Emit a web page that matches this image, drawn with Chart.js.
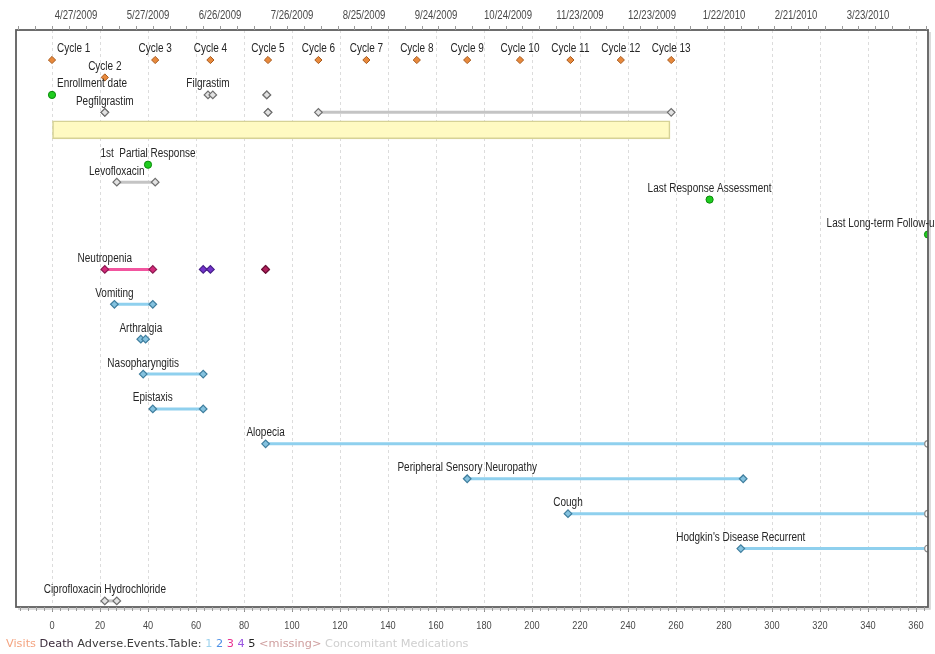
<!DOCTYPE html>
<html>
<head>
<meta charset="utf-8">
<script src="https://cdn.jsdelivr.net/npm/chart.js@4.4.1/dist/chart.umd.min.js"></script>
<style>
  body { margin: 0; background: #fff; width: 935px; height: 654px; overflow: hidden; position: relative; }
  #wrap { position: absolute; left: 0; top: 0; width: 935px; height: 654px; }
  #legend { position: absolute; left: 6px; top: 636px; font: 11.3px "DejaVu Sans", sans-serif; color: #333; white-space: nowrap; line-height: 16px; }
</style>
</head>
<body>
<div id="wrap"><canvas id="timeline" width="935" height="654"></canvas></div>
<div id="legend">
  <span style="color:#f4a582">Visits</span>
  <span style="color:#3b2b3b">Death</span>
  <span style="color:#3a3a3a">Adverse.Events.Table:</span>
  <span style="color:#9fd3ee">1</span>
  <span style="color:#4b8fe6">2</span>
  <span style="color:#e8308e">3</span>
  <span style="color:#9a55e0">4</span>
  <span style="color:#222">5</span>
  <span style="color:#cf9f9f">&lt;missing&gt;</span>
  <span style="color:#cfcfcf">Concomitant Medications</span>
</div>
<script>
// axis ticks
const bottomTicks = [0, 20, 40, 60, 80, 100, 120, 140, 160, 180, 200, 220, 240, 260, 280, 300, 320, 340, 360];
const topTickDays = [10, 40, 70, 100, 130, 160, 190, 220, 250, 280, 310, 340];
const topTickLabels = ['4/27/2009', '5/27/2009', '6/26/2009', '7/26/2009', '8/25/2009', '9/24/2009',
    '10/24/2009', '11/23/2009', '12/23/2009', '1/22/2010', '2/21/2010', '3/23/2010'];

// visits (cycles)
const visitNames = ['Cycle 1', 'Cycle 2', 'Cycle 3', 'Cycle 4', 'Cycle 5', 'Cycle 6', 'Cycle 7',
    'Cycle 8', 'Cycle 9', 'Cycle 10', 'Cycle 11', 'Cycle 12', 'Cycle 13'];
const visitDays = [0, 22, 43, 66, 90, 111, 131, 152, 173, 195, 216, 237, 258];
const visitRows = [0, 1, 0, 0, 0, 0, 0, 0, 0, 0, 0, 0, 0];

// milestones (green points)
const milestoneNames = ['Enrollment date', '1st  Partial Response', 'Last Response Assessment', 'Last Long-term Follow-up'];
const milestoneDays = [0, 40, 274, 365];
const milestoneRows = [2, 6, 8, 10];

// treatment period (yellow bar)
const treatmentSpan = [0, 257.5];
const treatmentRow = 4;

// concomitant medications
const medNames = ['Filgrastim', 'Filgrastim', 'Pegfilgrastim', 'Pegfilgrastim', 'Pegfilgrastim', 'Levofloxacin', 'Ciprofloxacin Hydrochloride'];
const medStarts = [65, 89.5, 22, 90, 111, 27, 22];
const medEnds = [67, 89.5, 22, 90, 258, 43, 27];
const medRows = [2, 2, 3, 3, 3, 7, 31];

// adverse events
const aeNames = ['Neutropenia', 'Neutropenia', 'Neutropenia', 'Vomiting', 'Arthralgia', 'Nasopharyngitis',
    'Epistaxis', 'Alopecia', 'Peripheral Sensory Neuropathy', 'Cough', "Hodgkin's Disease Recurrent"];
const aeStarts = [22, 63, 89, 26, 37, 38, 42, 89, 173, 215, 287];
const aeEnds = [42, 66, 89, 42, 39, 63, 63, 365, 288, 365, 365];
const aeGrades = ['3', '4', '3/4', '1', '1', '1', '1', '1', '1', '1', '1'];
const aeOngoing = [false, false, false, false, false, false, false, true, false, true, true];
const aeRows = [12, 12, 12, 14, 16, 18, 20, 22, 24, 26, 28];

// styles
const gradeStyle = {
    '1': { line: '#8fd0ee', fill: '#84c2df', edge: '#3f7e9e' },
    '3': { line: '#f2559f', fill: '#d42a7a', edge: '#8a1a50' },
    '4': { line: '#7a3ed4', fill: '#7434cc', edge: '#48208a' },
    '3/4': { line: '#b01e5a', fill: '#b01e5a', edge: '#6a0f36' }
};
const medStyle = { line: '#c4c4c4', fill: '#e2e2e2', edge: '#6e6e6e' };
const openEnd = { fill: '#ffffff', edge: '#8a8a8a' };
const labelAlign = { 'Cycle 1': 'left', 'Enrollment date': 'left', 'Last Long-term Follow-up': 'right' };
const fontFamily = '"Liberation Sans", Arial, sans-serif';
const squeeze = 0.8;   // the original uses a narrow face

function rangeDataset(start, end, row, style, ongoing, label) {
    return {
        type: 'scatter',
        showLine: true,
        tag: label,
        data: [{ x: start, y: row }, { x: end, y: row }],
        borderColor: style.line,
        borderWidth: 3,
        pointStyle: ['rectRot', ongoing ? 'circle' : 'rectRot'],
        pointRadius: [3.8, ongoing ? 3.3 : 3.8],
        pointBackgroundColor: [style.fill, ongoing ? openEnd.fill : style.fill],
        pointBorderColor: [style.edge, ongoing ? openEnd.edge : style.edge],
        pointBorderWidth: 1.2,
        order: 2
    };
}

const datasets = [];
const seen = new Set();
function firstTag(name) {
    if (seen.has(name)) return null;
    seen.add(name);
    return name;
}

visitNames.forEach((n, i) => {
    datasets.push({
        type: 'scatter', tag: firstTag(n),
        data: [{ x: visitDays[i], y: visitRows[i] }],
        pointStyle: 'rectRot', pointRadius: 3.6,
        pointBackgroundColor: '#e8893c', pointBorderColor: '#a85a1c', pointBorderWidth: 1,
        order: 1
    });
});

milestoneNames.forEach((n, i) => {
    datasets.push({
        type: 'scatter', tag: firstTag(n),
        data: [{ x: milestoneDays[i], y: milestoneRows[i] }],
        pointStyle: 'circle', pointRadius: 3.6,
        pointBackgroundColor: '#1fcc1f', pointBorderColor: '#0b8a0b', pointBorderWidth: 1,
        order: 1
    });
});

medNames.forEach((n, i) => {
    datasets.push(rangeDataset(medStarts[i], medEnds[i], medRows[i], medStyle, false, firstTag(n)));
});

aeNames.forEach((n, i) => {
    datasets.push(rangeDataset(aeStarts[i], aeEnds[i], aeRows[i], gradeStyle[aeGrades[i]], aeOngoing[i], firstTag(n)));
});

datasets.push({
    type: 'bar',
    indexAxis: 'y',
    data: [{ x: treatmentSpan, y: treatmentRow }],
    backgroundColor: '#fffac2',
    borderColor: '#d6d296',
    borderWidth: 1.6,
    borderSkipped: false,
    barThickness: 18,
    order: 10
});

// narrow text helper
function narrowText(ctx, text, x, y, align) {
    ctx.save();
    ctx.translate(x, y);
    ctx.scale(squeeze, 1);
    ctx.textAlign = align;
    ctx.fillText(text, 0, 0);
    ctx.restore();
}

// frame, minor ticks, tick labels and event labels
const decorPlugin = {
    id: 'decor',
    afterDatasetsDraw(chart) {
        const { ctx, chartArea: a, scales } = chart;
        const x = scales.x;
        const x2 = scales.x2;
        const y = scales.y;
        ctx.save();
        // frame with soft shadow
        ctx.strokeStyle = '#cfcfcf';
        ctx.lineWidth = 1.5;
        ctx.beginPath();
        ctx.moveTo(a.right + 2, a.top + 2);
        ctx.lineTo(a.right + 2, a.bottom + 2);
        ctx.lineTo(a.left + 2, a.bottom + 2);
        ctx.stroke();
        ctx.strokeStyle = '#5e5e5e';
        ctx.lineWidth = 1.8;
        ctx.strokeRect(a.left, a.top, a.right - a.left, a.bottom - a.top);

        // minor ticks
        ctx.strokeStyle = '#9a9a9a';
        ctx.lineWidth = 1;
        ctx.beginPath();
        for (let d = -14; d <= 365; d += 7) {
            const px = Math.round(x2.getPixelForValue(d)) + 0.5;
            ctx.moveTo(px, a.top - 4);
            ctx.lineTo(px, a.top);
        }
        for (let k = -4; k * 20 / 6 <= 365; k++) {
            const px = Math.round(x.getPixelForValue(k * 20 / 6)) + 0.5;
            if (px < a.left) continue;
            ctx.moveTo(px, a.bottom);
            ctx.lineTo(px, a.bottom + 4);
        }
        ctx.stroke();

        // tick labels of both axes
        ctx.fillStyle = '#4a4a4a';
        ctx.textBaseline = 'middle';
        ctx.font = '12px ' + fontFamily;
        x2.ticks.forEach(t => narrowText(ctx, t.label, x2.getPixelForValue(t.value), 16, 'center'));
        ctx.font = '11.5px ' + fontFamily;
        x.ticks.forEach(t => narrowText(ctx, t.label, x.getPixelForValue(t.value), 626, 'center'));

        // event labels
        ctx.font = '12.5px ' + fontFamily;
        ctx.fillStyle = '#262626';
        chart.data.datasets.forEach(ds => {
            if (!ds.tag) return;
            const p = ds.data[0];
            const px = x.getPixelForValue(p.x);
            const py = y.getPixelForValue(p.y) - 11;
            const align = labelAlign[ds.tag] || 'center';
            const ox = align === 'left' ? 5 : (align === 'right' ? 12 : 0);
            narrowText(ctx, ds.tag, px + ox, py, align);
        });
        ctx.restore();
    }
};

new Chart(document.getElementById('timeline'), {
    type: 'scatter',
    data: { datasets },
    options: {
        responsive: false,
        animation: false,
        events: [],
        layout: { padding: { left: 16, right: 7, top: 0, bottom: 0 } },
        plugins: { legend: { display: false }, tooltip: { enabled: false } },
        scales: {
            x: {
                type: 'linear', position: 'bottom', min: -15, max: 365, offset: false,
                afterBuildTicks: s => { s.ticks = bottomTicks.map(v => ({ value: v })); },
                afterFit: s => { s.height = 47; },
                ticks: { display: false },
                grid: { color: '#dcdcdc', tickColor: '#8a8a8a', tickLength: 5, tickBorderDash: [], offset: false },
                border: { display: false, dash: [3, 3] }
            },
            x2: {
                type: 'linear', position: 'top', min: -15, max: 365, offset: false,
                afterBuildTicks: s => { s.ticks = topTickDays.map(v => ({ value: v })); },
                afterFit: s => { s.height = 30; },
                ticks: { display: false, callback: (v) => topTickLabels[topTickDays.indexOf(v)] },
                grid: { display: false },
                border: { display: false }
            },
            y: {
                type: 'linear', reverse: true, min: -1.72, max: 31.35, display: false, offset: false,
                grid: { offset: false }
            }
        }
    },
    plugins: [decorPlugin]
});
</script>
</body>
</html>
